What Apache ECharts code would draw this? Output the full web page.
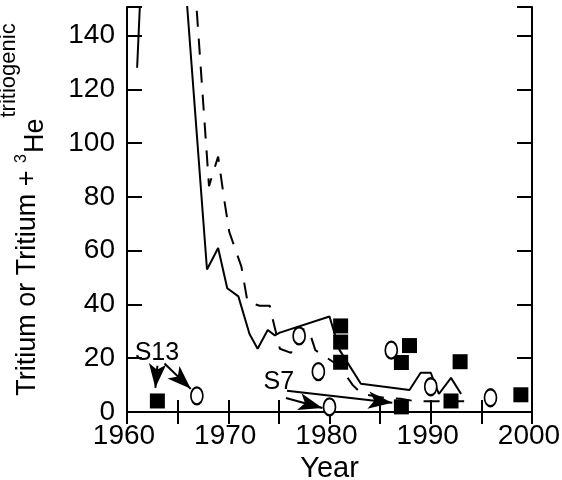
<!DOCTYPE html>
<html>
<head>
<meta charset="utf-8">
<script src="https://cdn.jsdelivr.net/npm/echarts@6/dist/echarts.min.js"></script>
<style>
	html, body { margin: 0; padding: 0; background: #fff; }
	#main { width: 562px; height: 480px; }
</style>
</head>
<body>
<div id="main"></div>
<script>
// Solid curve (tritium input) and dashed curve, [year, value]
const solidLine = [
	[1961, 128], [1963, 298], [1967.9, 53], [1969, 61], [1969.9, 46], [1971, 43],
	[1972.1, 29], [1972.9, 23.5], [1973.9, 30.5], [1974.6, 28.5], [1975.1, 29.5],
	[1980, 35.5], [1981, 23], [1983.1, 10.5], [1987.9, 8.2], [1989, 14.6],
	[1990, 14.6], [1990.8, 6.7], [1992, 12.7], [1993, 6.7]
];
const dashedLine = [
	[1964, 305], [1968.1, 84], [1969, 95], [1969.6, 79], [1970.1, 67], [1971.3, 54],
	[1971.9, 41], [1973.1, 39.5], [1974.1, 39.5], [1974.3, 36], [1975.1, 23.5],
	[1976.2, 22], [1977.2, 31], [1978, 30], [1978.6, 23], [1981, 17], [1982.3, 10],
	[1983.2, 6.7], [1985.5, 5.2], [1987, 4.9], [1988.5, 4], [1990.8, 4], [1993.3, 4]
];
// Filled squares and open circles
const squares = [
	[1963, 4.1], [1981.1, 32], [1981.1, 26], [1981.1, 18.5], [1987.1, 1.9],
	[1987.1, 18.4], [1987.9, 24.7], [1992, 4.1], [1992.9, 18.7], [1998.9, 6.4]
];
const circles = [
	[1966.9, 6], [1977, 28.3], [1978.9, 15], [1980, 1.9], [1986.1, 23], [1990, 9.4], [1995.9, 5.3]
];
// Annotations: well labels and arrows (from -> to)
const noteNames = ['S13', 'S7'];
const notePos = [[1962.95, 22], [1975, 11]];
const arrows = [
	[[1963.0, 17.2], [1962.8, 9.0]],
	[[1963.7, 18.0], [1966.3, 8.6]],
	[[1975.7, 5.2], [1979.3, 1.5]],
	[[1975.8, 7.9], [1986.2, 3.4]]
];

const font = 'Liberation Sans, Arial, sans-serif';
const myChart = echarts.init(document.getElementById('main'), null, { renderer: 'canvas' });

const xBase = { type: 'value', min: 1960, max: 2000, interval: 5, splitLine: { show: false },
	axisLine: { show: true, lineStyle: { color: '#000', width: 2 } } };
const yBase = { type: 'value', min: 0, max: 150.6, interval: 20, splitLine: { show: false },
	axisLine: { show: true, lineStyle: { color: '#000', width: 2 } } };

option = {
	animation: false,
	backgroundColor: '#fff',
	grid: { left: 127, right: 30, top: 7, bottom: 68, outerBoundsMode: 'none', containLabel: false },
	xAxis: [
		Object.assign({}, xBase, {
			position: 'bottom',
			axisTick: { inside: true, length: 12, lineStyle: { color: '#000', width: 2 } },
			axisLabel: { color: '#000', fontSize: 28, fontFamily: font, margin: 10, padding: [0, 6, 0, 0],
				formatter: function (v) { return v % 10 === 0 ? String(v) : ''; } },
			name: 'Year',
			nameLocation: 'middle',
			nameGap: 42,
			nameTextStyle: { color: '#000', fontSize: 29, fontFamily: font }
		}),
		Object.assign({}, xBase, {
			position: 'top',
			axisTick: { inside: true, length: 12, lineStyle: { color: '#000', width: 2 } },
			axisLabel: { show: false }
		})
	],
	yAxis: [
		Object.assign({}, yBase, {
			position: 'left',
			axisTick: { inside: true, length: 15, lineStyle: { color: '#000', width: 2 } },
			axisLabel: { color: '#000', fontSize: 28, fontFamily: font, margin: 12,
				formatter: function (v) { return v % 20 === 0 ? String(v) : ''; } },
			name: '{a|Tritium or Tritium + }{sup|3}{he|He}{sub|tritiogenic}',
			nameLocation: 'middle',
			nameRotate: 90,
			nameGap: 78,
			nameTextStyle: {
				color: '#000', fontFamily: font,
				rich: {
					a: { fontSize: 27, fontFamily: font, color: '#000', verticalAlign: 'top', padding: [16, 0, 0, 0] },
					he: { fontSize: 27, fontFamily: font, color: '#000', verticalAlign: 'top', padding: [24, 0, 0, 0] },
					sup: { fontSize: 16, fontFamily: font, color: '#000', verticalAlign: 'top', padding: [16, 1, 0, 0] },
					sub: { fontSize: 22, fontFamily: font, color: '#000', verticalAlign: 'top', padding: [0, 0, 0, 1] }
				}
			}
		}),
		Object.assign({}, yBase, {
			position: 'right',
			axisTick: { inside: true, length: 15, lineStyle: { color: '#000', width: 2 } },
			axisLabel: { show: false }
		})
	],
	series: [
		{
			name: 'solid',
			type: 'line',
			data: solidLine,
			showSymbol: false,
			clip: true,
			lineStyle: { color: '#000', width: 2 },
			z: 2
		},
		{
			name: 'dashed',
			type: 'line',
			data: dashedLine,
			showSymbol: false,
			clip: true,
			lineStyle: { color: '#000', width: 2, type: [16, 12] },
			z: 2
		},
		{
			name: 'squares',
			type: 'scatter',
			data: squares,
			symbol: 'rect',
			symbolSize: 15,
			clip: false,
			itemStyle: { color: '#000', opacity: 1 },
			z: 4
		},
		{
			name: 'circles',
			type: 'scatter',
			data: circles,
			symbol: 'circle',
			symbolSize: [12, 17],
			clip: false,
			itemStyle: { color: '#fff', borderColor: '#000', borderWidth: 2, opacity: 1 },
			z: 4
		},
		{
			name: 'notes',
			type: 'scatter',
			data: notePos.map(function (p, i) { return [p[0], p[1], noteNames[i]]; }),
			symbolSize: 0,
			silent: true,
			itemStyle: { opacity: 1 },
			label: {
				show: true, position: 'inside', color: '#000', fontSize: 25, fontFamily: font,
				formatter: function (p) { return p.value[2]; }
			},
			markLine: {
				silent: true,
				symbol: ['none', 'arrow'],
				symbolSize: [13, 24],
				label: { show: false },
				lineStyle: { color: '#000', width: 2, type: 'solid', opacity: 1 },
				emphasis: { disabled: true },
				data: arrows.map(function (a) { return [{ coord: a[0] }, { coord: a[1] }]; })
			},
			z: 5
		}
	]
};
myChart.setOption(option);
</script>
</body>
</html>
